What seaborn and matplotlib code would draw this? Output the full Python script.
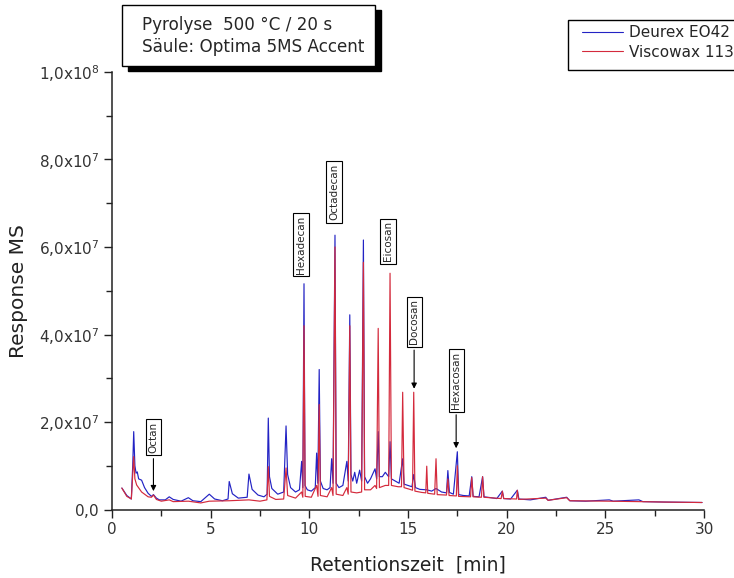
import numpy as np
import pandas as pd
import matplotlib
matplotlib.use("Agg")
import matplotlib.pyplot as plt
from matplotlib.lines import Line2D
from matplotlib.patches import Rectangle
import seaborn as sns

# ---------------- data (y in units of 1e6) ----------------
series_names = ["Deurex EO42", "Viscowax 113"]
series_colors = ["#2323c4", "#d42a3c"]

deurex_t = [0.5, 0.75, 0.98, 1.05, 1.10, 1.16, 1.22, 1.28, 1.35, 1.5, 1.65, 1.83, 2.0, 2.1, 2.25,
            2.4, 2.7, 2.9, 3.1, 3.5, 3.87, 4.1, 4.5, 4.93, 5.2, 5.6, 5.88, 5.94, 6.1, 6.4, 6.85,
            6.94, 7.1, 7.4, 7.7, 7.86, 7.92, 7.98, 8.1, 8.4, 8.7, 8.82, 8.9, 9.05, 9.3, 9.5, 9.61,
            9.67, 9.73, 9.78, 9.9, 10.1, 10.3, 10.37, 10.43, 10.5, 10.56, 10.7, 10.9, 11.05, 11.13,
            11.2, 11.3, 11.36, 11.5, 11.7, 11.9, 11.97, 12.05, 12.11, 12.2, 12.3, 12.4, 12.55, 12.65,
            12.74, 12.80, 12.95, 13.1, 13.33, 13.41, 13.49, 13.55, 13.7, 13.85, 14.02, 14.09, 14.16,
            14.35, 14.55, 14.73, 14.8, 15.0, 15.2, 15.29, 15.38, 15.6, 15.95, 16.2, 16.42, 16.7,
            16.95, 17.02, 17.1, 17.3, 17.5, 17.57, 17.8, 18.1, 18.23, 18.3, 18.6, 18.78, 18.85,
            19.2, 19.5, 19.78, 19.85, 20.2, 20.54, 20.62, 21.2, 21.98, 22.1, 23.04, 23.2, 24.0,
            25.2, 25.4, 26.7, 26.9, 28.0, 29.0, 29.9]
deurex_y = [4.9, 3.2, 2.4, 10.0, 17.8, 10.0, 8.3, 8.6, 7.0, 6.7, 5.0, 3.7, 3.0, 3.4, 2.6,
            2.2, 2.2, 2.9, 2.3, 1.9, 2.7, 2.0, 1.8, 3.5, 2.4, 2.0, 2.4, 6.4, 3.6, 2.6, 2.8,
            8.1, 4.6, 3.3, 2.9, 3.5, 20.9, 7.5, 4.8, 3.5, 4.0, 19.1, 8.0, 5.0, 4.0, 4.5, 11.0,
            5.0, 51.6, 5.5, 4.5, 4.2, 5.0, 12.9, 6.0, 32.0, 6.5, 4.8, 4.5, 5.0, 11.6,
            6.0, 62.7, 6.0, 5.0, 5.5, 11.0, 6.5, 44.5, 8.0, 6.5, 8.5, 6.0, 9.0, 6.5,
            61.6, 7.5, 6.0, 7.0, 9.3, 7.0, 17.8, 7.5, 7.5, 8.5, 7.5, 15.5, 7.0,
            6.5, 6.0, 11.6, 5.8, 5.5, 5.2, 8.0, 5.0, 4.6, 4.5, 4.2, 4.8, 4.0,
            3.8, 8.9, 3.9, 3.5, 13.2, 3.4, 3.2, 3.1, 7.5, 3.0, 2.9, 7.5, 2.9,
            2.7, 2.5, 4.2, 2.5, 2.4, 4.4, 2.4, 2.2, 2.8, 2.1, 2.8, 2.0, 1.9,
            2.2, 1.9, 2.2, 1.8, 1.7, 1.65, 1.6]

viscowax_t = [0.5, 0.75, 0.98, 1.05, 1.10, 1.16, 1.25, 1.5, 1.83, 2.0, 2.1, 2.25, 2.5, 2.9, 3.1,
              3.87, 4.5, 4.93, 5.94, 6.94, 7.5, 7.85, 7.92, 7.98, 8.3, 8.7, 8.82, 8.9, 9.3, 9.61,
              9.67, 9.73, 9.79, 10.1, 10.37, 10.44, 10.5, 10.56, 10.9, 11.13, 11.2, 11.3, 11.36,
              11.7, 11.9, 11.97, 12.05, 12.11, 12.4, 12.65, 12.74, 12.80, 13.1, 13.33, 13.41, 13.49,
              13.55, 13.85, 14.02, 14.09, 14.16, 14.5, 14.67, 14.73, 14.8, 15.1, 15.23, 15.29, 15.35,
              15.7, 15.9, 15.95, 16.0, 16.35, 16.42, 16.48, 16.95, 17.02, 17.08, 17.45, 17.5, 17.56,
              18.17, 18.23, 18.3, 18.72, 18.78, 18.85, 19.72, 19.78, 19.85, 20.5, 20.54, 20.6, 21.98,
              22.1, 23.04, 23.2, 25.2, 26.7, 28.0, 29.9]
viscowax_y = [4.9, 3.0, 2.4, 8.0, 12.1, 7.0, 5.6, 4.0, 2.9, 2.8, 3.3, 2.3, 1.9, 2.2, 1.8,
              1.9, 1.5, 1.9, 2.0, 2.2, 1.9, 2.2, 9.8, 3.0, 2.3, 2.4, 9.5, 3.2, 2.6, 4.0,
              2.8, 42.0, 3.0, 2.8, 5.5, 3.0, 24.0, 3.2, 2.9, 5.0, 3.2, 60.0, 3.5,
              3.2, 5.0, 3.5, 42.0, 4.0, 3.8, 4.0, 56.5, 4.5, 4.5, 5.5, 4.8, 41.4,
              5.0, 5.5, 5.5, 54.0, 5.5, 5.2, 5.2, 26.8, 5.0, 4.6, 4.4, 26.8, 4.2,
              3.9, 3.8, 9.9, 3.7, 3.5, 11.6, 3.4, 3.3, 7.0, 3.2, 3.1, 10.0, 3.0,
              2.9, 7.3, 2.9, 2.8, 7.5, 2.8, 2.5, 4.2, 2.5, 2.4, 4.4, 2.3, 2.6,
              2.1, 2.7, 2.0, 1.9, 1.8, 1.7, 1.6]

x_ticks = [0, 5, 10, 15, 20, 25, 30]
y_ticks = [0, 2e7, 4e7, 6e7, 8e7, 1e8]
y_tick_labels = [r"$\mathdefault{0{,}0}$", r"$\mathdefault{2{,}0x10^{7}}$", r"$\mathdefault{4{,}0x10^{7}}$",
                 r"$\mathdefault{6{,}0x10^{7}}$", r"$\mathdefault{8{,}0x10^{7}}$", r"$\mathdefault{1{,}0x10^{8}}$"]

peak_names = ["Octan", "Hexadecan", "Octadecan", "Eicosan", "Docosan", "Hexacosan"]
label_x = [2.1, 9.58, 11.25, 13.99, 15.31, 17.44]
label_y = [16.5e6, 60.6e6, 72.6e6, 61.3e6, 42.9e6, 29.5e6]
arrow_tip_y = [4.2e6, None, None, None, 27.6e6, 14.0e6]

info_lines = ["Pyrolyse  500 °C / 20 s", "Säule: Optima 5MS Accent"]

# ---------------- build frame ----------------
df = pd.concat([
    pd.DataFrame({"t": deurex_t, "y": np.array(deurex_y) * 1e6, "Probe": series_names[0]}),
    pd.DataFrame({"t": viscowax_t, "y": np.array(viscowax_y) * 1e6, "Probe": series_names[1]}),
], ignore_index=True)

sns.set_style("ticks")
plt.rcParams["font.family"] = ["DejaVu Sans"]

W, H = 734, 578
fig = plt.figure(figsize=(W / 100, H / 100), dpi=100)
ax = fig.add_axes([112 / W, 1 - 509.5 / H, (704 - 112) / W, (509.5 - 72) / H])

sns.lineplot(data=df, x="t", y="y", hue="Probe", hue_order=series_names,
             palette=series_colors, estimator=None, sort=False, linewidth=0.85,
             legend=False, ax=ax)

ax.set_xlim(0, 30)
ax.set_ylim(0, 1e8)
ax.set_xticks(x_ticks)
ax.set_xticklabels([str(v) for v in x_ticks])
ax.set_xticks([2.5, 7.5, 12.5, 17.5, 22.5, 27.5], minor=True)
ax.set_yticks(y_ticks)
ax.set_yticklabels(y_tick_labels)
ax.set_yticks([1e7, 3e7, 5e7, 7e7, 9e7], minor=True)
ax.tick_params(axis="both", which="major", direction="out", length=6, width=1,
               labelsize=11, colors="#222222", labelcolor="#333333", pad=3)
ax.tick_params(axis="both", which="minor", direction="out", length=4, width=1, colors="#222222")
for s in ["top", "right"]:
    ax.spines[s].set_visible(False)
for s in ["left", "bottom"]:
    ax.spines[s].set_color("#222222")
    ax.spines[s].set_linewidth(1.1)

ax.set_xlabel("Retentionszeit  [min]", fontsize=13.5, color="#222222", labelpad=13)
ax.set_ylabel("Response MS", fontsize=14.5, color="#222222", labelpad=8)

# peak labels
for name, lx, ly, tip in zip(peak_names, label_x, label_y, arrow_tip_y):
    bbox = dict(boxstyle="square,pad=0.25", fc="white", ec="black", lw=0.8)
    if tip is None:
        ax.text(lx, ly, name, rotation=90, ha="center", va="center", fontsize=7.5, bbox=bbox, zorder=5)
    else:
        ax.annotate(name, xy=(lx, tip), xytext=(lx, ly), rotation=90, ha="center", va="center",
                    fontsize=7.5, bbox=bbox, zorder=5,
                    arrowprops=dict(arrowstyle="-|>", color="black", lw=0.8,
                                    mutation_scale=8, shrinkA=2, shrinkB=0))

# info box with shadow
fig.patches.append(Rectangle((128 / W, 1 - 71 / H), 253 / W, 61 / H, transform=fig.transFigure,
                             facecolor="black", edgecolor="black", zorder=1))
fig.patches.append(Rectangle((122 / W, 1 - 66 / H), 253 / W, 61 / H, transform=fig.transFigure,
                             facecolor="white", edgecolor="black", lw=1, zorder=2))
fig.text(142 / W, 1 - 25 / H, info_lines[0], fontsize=12.1, va="center", ha="left", zorder=3)
fig.text(142 / W, 1 - 47 / H, info_lines[1], fontsize=12.1, va="center", ha="left", zorder=3)

# legend: frame drawn separately (it runs past the right edge in the reference)
fig.patches.append(Rectangle((568 / W, 1 - 70 / H), 200 / W, 50 / H, transform=fig.transFigure,
                             facecolor="white", edgecolor="black", lw=1, zorder=2))
handles = [Line2D([], [], color=c, lw=0.8) for c in series_colors]
leg = fig.legend(handles, series_names, loc="upper left", bbox_to_anchor=(582 / W, 1 - 25 / H),
                 frameon=False, fontsize=11, handlelength=2.7, handletextpad=0.35,
                 borderpad=0, labelspacing=0.3, borderaxespad=0)
leg.set_zorder(3)

fig.savefig("out.png", dpi=100)
